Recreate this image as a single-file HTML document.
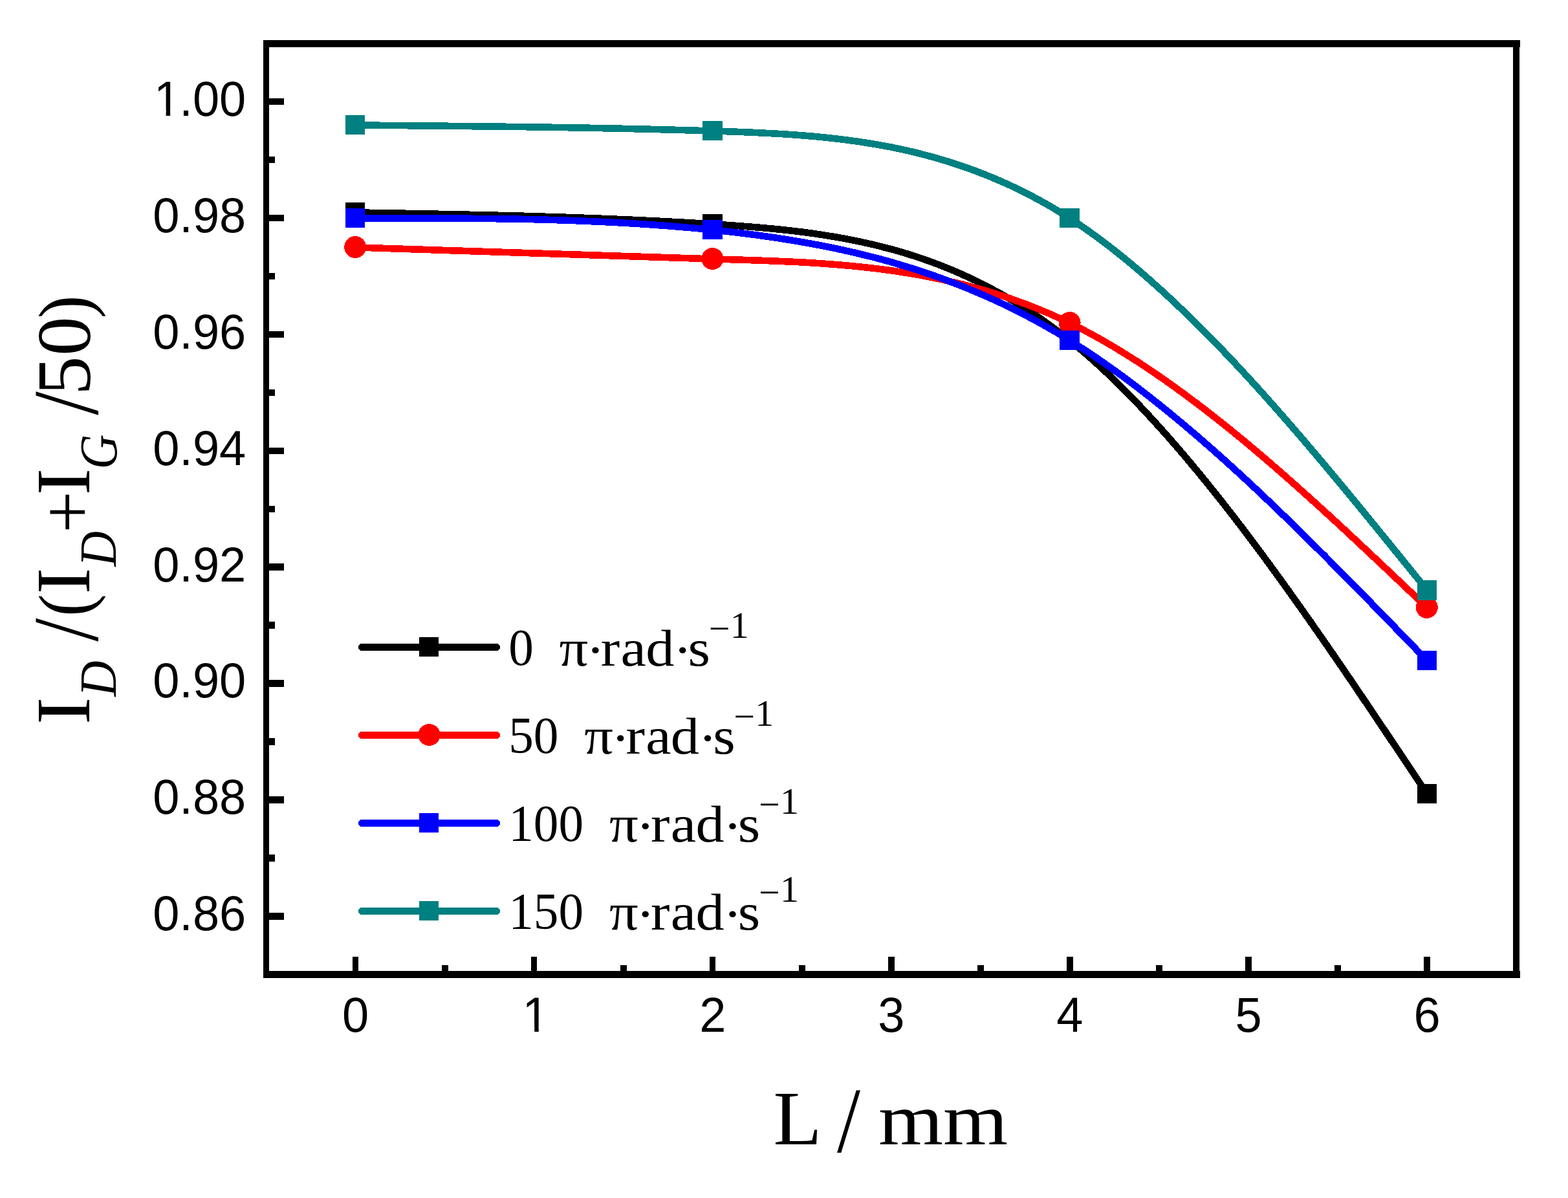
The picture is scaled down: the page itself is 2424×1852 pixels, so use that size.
<!DOCTYPE html>
<html lang="en"><head><meta charset="utf-8"><title>I D /(I D + I G /50) versus L / mm</title>
<style>html,body{margin:0;padding:0;background:#fff}body{width:2424px;height:1852px;overflow:hidden}svg{display:block}text{white-space:pre;fill:#000}.sf{font-family:"Liberation Serif",serif}.ss{font-family:"Liberation Sans",sans-serif}</style></head><body>
<svg width="2424" height="1852" viewBox="0 0 2424 1852">
<rect width="2424" height="1852" fill="#fff"/>
<defs><clipPath id="one" clipPathUnits="userSpaceOnUse"><path d="M-10 -80H62V-10H36.48V2H27.65V-10H-10Z"/><path d="M62 -90H400V30H62Z"/></clipPath></defs>
<g shape-rendering="crispEdges">
<path d="M549.5 328.43C733.57 331.61 917.63 334.79 1101.7 346.43C1285.77 358.06 1469.83 378.15 1653.9 526.36C1837.97 674.56 2022.03 950.87 2206.1 1227.18" fill="none" stroke="#000" stroke-width="10.6"/>
<rect x="534" y="313" width="30" height="30" fill="#000"/>
<rect x="1086" y="331" width="31" height="30" fill="#000"/>
<rect x="1638" y="511" width="31" height="30" fill="#000"/>
<rect x="2191" y="1212" width="30" height="30" fill="#000"/>
<path d="M549.5 382.41C733.57 388.79 917.63 395.17 1101.7 400.41C1285.77 405.64 1469.83 409.74 1653.9 499.37C1837.97 588.99 2022.03 764.14 2206.1 939.3" fill="none" stroke="#f00" stroke-width="10.6"/>
<circle cx="549.2" cy="382.01" r="17" fill="#f00"/>
<circle cx="1101.4" cy="400.01" r="17" fill="#f00"/>
<circle cx="1653.6" cy="498.97" r="17" fill="#f00"/>
<circle cx="2205.8" cy="938.9" r="17" fill="#f00"/>
<path d="M549.5 337.43C733.57 337.03 917.63 336.63 1101.7 355.42C1285.77 374.22 1469.83 412.2 1653.9 526.36C1837.97 640.51 2022.03 830.84 2206.1 1021.16" fill="none" stroke="#00f" stroke-width="10.6"/>
<rect x="534" y="322" width="30" height="30" fill="#00f"/>
<rect x="1086" y="340" width="31" height="30" fill="#00f"/>
<rect x="1638" y="511" width="31" height="30" fill="#00f"/>
<rect x="2191" y="1006" width="30" height="30" fill="#00f"/>
<path d="M549.5 193.49C733.57 195.07 917.63 196.64 1101.7 202.48C1285.77 208.32 1469.83 218.42 1653.9 337.43C1837.97 456.44 2022.03 684.38 2206.1 912.31" fill="none" stroke="#008080" stroke-width="10.6"/>
<rect x="534" y="178" width="30" height="30" fill="#008080"/>
<rect x="1086" y="187" width="31" height="30" fill="#008080"/>
<rect x="1638" y="322" width="31" height="30" fill="#008080"/>
<rect x="2191" y="897" width="30" height="31" fill="#008080"/>
</g>
<g fill="#000" shape-rendering="crispEdges">
<rect x="407" y="62" width="1943" height="11"/>
<rect x="407" y="1501" width="1943" height="11"/>
<rect x="407" y="62" width="9" height="1450"/>
<rect x="2339" y="62" width="10" height="1450"/>
<rect x="416" y="152" width="23" height="10"/>
<rect x="416" y="332" width="23" height="10"/>
<rect x="416" y="512" width="23" height="10"/>
<rect x="416" y="692" width="23" height="10"/>
<rect x="416" y="871" width="23" height="11"/>
<rect x="416" y="1051" width="23" height="11"/>
<rect x="416" y="1231" width="23" height="11"/>
<rect x="416" y="1411" width="23" height="11"/>
<rect x="416" y="242" width="9" height="10"/>
<rect x="416" y="422" width="9" height="10"/>
<rect x="416" y="602" width="9" height="10"/>
<rect x="416" y="782" width="9" height="10"/>
<rect x="416" y="961" width="9" height="11"/>
<rect x="416" y="1141" width="9" height="11"/>
<rect x="416" y="1321" width="9" height="11"/>
<rect x="545" y="1479" width="9" height="22"/>
<rect x="821" y="1479" width="9" height="22"/>
<rect x="1097" y="1479" width="9" height="22"/>
<rect x="1373" y="1479" width="10" height="22"/>
<rect x="1649" y="1479" width="10" height="22"/>
<rect x="1925" y="1479" width="10" height="22"/>
<rect x="2201" y="1479" width="10" height="22"/>
<rect x="683" y="1492" width="10" height="9"/>
<rect x="959" y="1492" width="10" height="9"/>
<rect x="1235" y="1492" width="10" height="9"/>
<rect x="1511" y="1492" width="10" height="9"/>
<rect x="1787" y="1492" width="10" height="9"/>
<rect x="2063" y="1492" width="10" height="9"/>
</g>
<text transform="matrix(0.7400 0 0 0.7650 236.17 178.80)" x="2.5 55.62 83.4 139.01" font-size="100" class="ss" clip-path="url(#one)">1.00</text>
<text transform="matrix(0.7400 0 0 0.7650 380.20 358.73)" text-anchor="end" font-size="100" class="ss">0.98</text>
<text transform="matrix(0.7400 0 0 0.7650 380.20 538.66)" text-anchor="end" font-size="100" class="ss">0.96</text>
<text transform="matrix(0.7400 0 0 0.7650 380.20 718.59)" text-anchor="end" font-size="100" class="ss">0.94</text>
<text transform="matrix(0.7400 0 0 0.7650 380.20 898.52)" text-anchor="end" font-size="100" class="ss">0.92</text>
<text transform="matrix(0.7400 0 0 0.7650 380.20 1078.45)" text-anchor="end" font-size="100" class="ss">0.90</text>
<text transform="matrix(0.7400 0 0 0.7650 380.20 1258.38)" text-anchor="end" font-size="100" class="ss">0.88</text>
<text transform="matrix(0.7400 0 0 0.7650 380.20 1438.31)" text-anchor="end" font-size="100" class="ss">0.86</text>
<text transform="matrix(0.7400 0 0 0.7650 549.50 1595.00)" text-anchor="middle" font-size="100" class="ss">0</text>
<text transform="matrix(0.7400 0 0 0.7650 805.76 1595)" x="2.5" font-size="100" class="ss" clip-path="url(#one)">1</text>
<text transform="matrix(0.7400 0 0 0.7650 1101.70 1595.00)" text-anchor="middle" font-size="100" class="ss">2</text>
<text transform="matrix(0.7400 0 0 0.7650 1377.80 1595.00)" text-anchor="middle" font-size="100" class="ss">3</text>
<text transform="matrix(0.7400 0 0 0.7650 1653.90 1595.00)" text-anchor="middle" font-size="100" class="ss">4</text>
<text transform="matrix(0.7400 0 0 0.7650 1930.00 1595.00)" text-anchor="middle" font-size="100" class="ss">5</text>
<text transform="matrix(0.7400 0 0 0.7650 2206.10 1595.00)" text-anchor="middle" font-size="100" class="ss">6</text>
<text transform="matrix(1.2261 0 0 1.1912 1195.47 1769.00)" font-size="100" class="sf">L</text>
<text transform="matrix(1.2957 0 0 1.4351 1294.00 1780.60)" font-size="100" class="sf">/</text>
<text transform="matrix(1.2871 0 0 1.1460 1357.90 1769.00)" x="0 77.69" font-size="100" class="sf">mm</text>
<g transform="translate(138 1115.7) rotate(-90)">
<text transform="matrix(1.2876 0 0 1.1790 -4.65 0.00)" font-size="100" class="sf">I</text>
<text transform="matrix(0.7671 0 0 0.7964 38.96 41.14)" font-size="100" class="sf" font-style="italic">D</text>
<text transform="matrix(1.2993 0 0 1.4411 124.00 12.99)" font-size="100" class="sf">/</text>
<text transform="matrix(1.0279 0 0 1.1525 162.88 1.36)" font-size="100" class="sf">(</text>
<text transform="matrix(1.2227 0 0 1.1790 197.08 0.00)" font-size="100" class="sf">I</text>
<text transform="matrix(0.7574 0 0 0.7964 239.85 41.14)" font-size="100" class="sf" font-style="italic">D</text>
<text transform="matrix(1.1497 0 0 1.1485 291.77 3.68)" font-size="100" class="sf">+</text>
<text transform="matrix(1.2533 0 0 1.1790 350.17 0.00)" font-size="100" class="sf">I</text>
<text transform="matrix(0.7436 0 0 0.8198 390.50 41.98)" font-size="100" class="sf" font-style="italic">G</text>
<text transform="matrix(1.3101 0 0 1.4411 473.90 12.99)" font-size="100" class="sf">/</text>
<text transform="matrix(1.2100 0 0 1.1766 504.77 1.05)" x="0 50.35" font-size="100" class="sf">50</text>
<text transform="matrix(1.0707 0 0 1.1525 623.35 1.36)" font-size="100" class="sf">)</text>
</g>
<line x1="559.5" y1="1000.5" x2="767.5" y2="1000.5" stroke="#000" stroke-width="11" stroke-linecap="round" shape-rendering="crispEdges"/>
<rect x="648" y="985" width="30" height="30" fill="#000" shape-rendering="crispEdges"/>
<text transform="matrix(0.7730 0 0 0.8000 786.20 1028.00)" font-size="100" class="sf">0</text>
<text transform="matrix(0.8850 0 0 0.8129 864.59 1028.71)" x="0 46.56 72.47 107.23 150.97 198.76 224.84" y="0 4.18 0 0 0 4.18 0" font-size="100" class="sf">π·rad·s</text>
<text transform="matrix(0.5800 0 0 0.5726 1095.71 986.10)" x="0 56.88" y="8.91 0" font-size="100" class="sf">−1</text>
<line x1="559.5" y1="1136.5" x2="767.5" y2="1136.5" stroke="#f00" stroke-width="11" stroke-linecap="round" shape-rendering="crispEdges"/>
<circle cx="663.5" cy="1136.0" r="17" fill="#f00" shape-rendering="crispEdges"/>
<text transform="matrix(0.7730 0 0 0.8000 786.20 1164.00)" font-size="100" class="sf">50</text>
<text transform="matrix(0.8850 0 0 0.8129 903.24 1164.71)" x="0 46.56 72.47 107.23 150.97 198.76 224.84" y="0 4.18 0 0 0 4.18 0" font-size="100" class="sf">π·rad·s</text>
<text transform="matrix(0.5800 0 0 0.5726 1134.36 1122.10)" x="0 56.88" y="8.91 0" font-size="100" class="sf">−1</text>
<line x1="559.5" y1="1272.5" x2="767.5" y2="1272.5" stroke="#00f" stroke-width="11" stroke-linecap="round" shape-rendering="crispEdges"/>
<rect x="648" y="1257" width="30" height="30" fill="#00f" shape-rendering="crispEdges"/>
<text transform="matrix(0.7730 0 0 0.8000 786.20 1300.00)" font-size="100" class="sf">100</text>
<text transform="matrix(0.8850 0 0 0.8129 941.89 1300.71)" x="0 46.56 72.47 107.23 150.97 198.76 224.84" y="0 4.18 0 0 0 4.18 0" font-size="100" class="sf">π·rad·s</text>
<text transform="matrix(0.5800 0 0 0.5726 1173.01 1258.10)" x="0 56.88" y="8.91 0" font-size="100" class="sf">−1</text>
<line x1="559.5" y1="1408.5" x2="767.5" y2="1408.5" stroke="#008080" stroke-width="11" stroke-linecap="round" shape-rendering="crispEdges"/>
<rect x="648" y="1393" width="30" height="30" fill="#008080" shape-rendering="crispEdges"/>
<text transform="matrix(0.7730 0 0 0.8000 786.20 1436.00)" font-size="100" class="sf">150</text>
<text transform="matrix(0.8850 0 0 0.8129 941.89 1436.71)" x="0 46.56 72.47 107.23 150.97 198.76 224.84" y="0 4.18 0 0 0 4.18 0" font-size="100" class="sf">π·rad·s</text>
<text transform="matrix(0.5800 0 0 0.5726 1173.01 1394.10)" x="0 56.88" y="8.91 0" font-size="100" class="sf">−1</text>
</svg></body></html>
